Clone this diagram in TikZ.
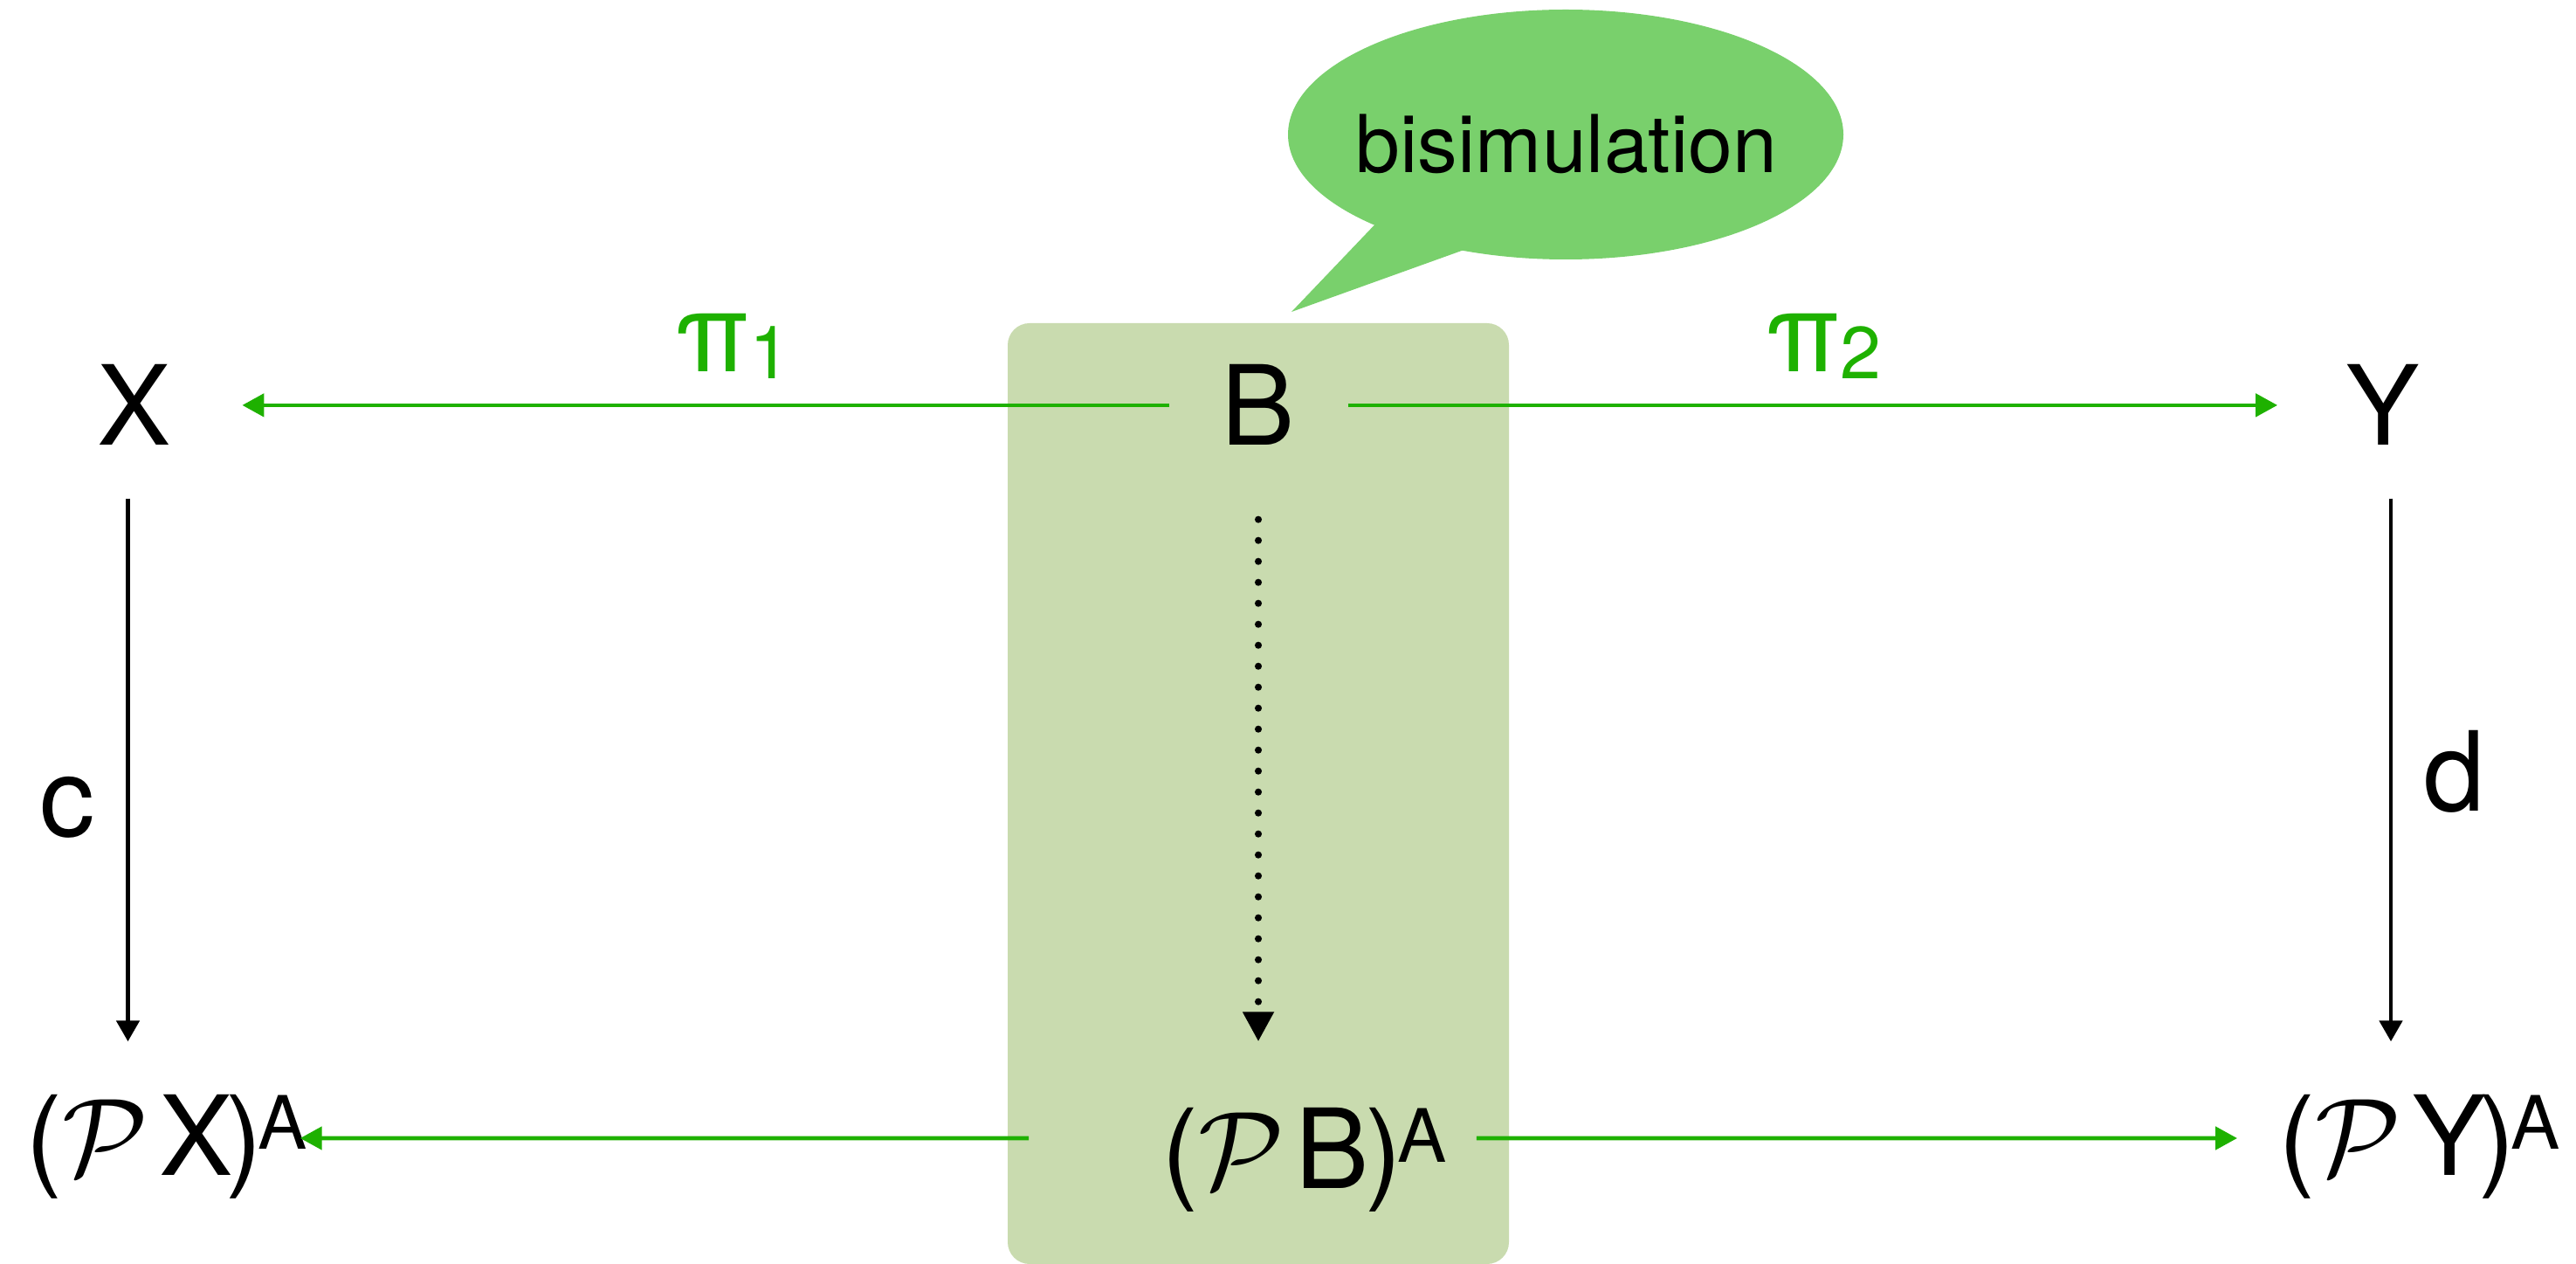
\RequirePackage{fix-cm}
\documentclass[tikz,border=0pt]{standalone}
\usepackage{fontspec}
\setmainfont{TeX Gyre Heros}
\usepackage{tikz}
\usetikzlibrary{arrows.meta,positioning,calc}
\definecolor{arrowgreen}{RGB}{30,177,0}
\definecolor{boxgreen}{RGB}{201,219,175}
\definecolor{bubblegreen}{RGB}{121,208,108}
\tikzset{
  obj/.style={inner sep=0pt, anchor=base, font=\fontsize{36}{40}\selectfont},
  powobj/.style={obj, anchor=base west, text height=10mm, text depth=1.6mm},
  arrdark/.style={-{Triangle[length=2.4mm,width=2.6mm]}, line width=1.4pt, color=black},
  arrgreen/.style={-{Triangle[length=2.5mm,width=2.6mm]}, line width=1.35pt, color=arrowgreen},
  arrdots/.style={-{Triangle[length=3.4mm,width=3.4mm]}, line width=2.3pt, line cap=round,
                  dash pattern=on 0pt off 2.4mm},
  lbl/.style={inner sep=0pt, anchor=base, font=\fontsize{36}{40}\selectfont},
  lblgreen/.style={lbl, text=arrowgreen},
}

\begin{document}
\begin{tikzpicture}
  \useasboundingbox (0,0) rectangle (29.5,-14.47);
  % highlight and speech bubble
  \fill[boxgreen, rounded corners=2.5mm] (11.54,-3.70) rectangle (17.28,-14.47);
  \fill[bubblegreen] (17.93,-1.54) ellipse[x radius=3.18, y radius=1.43];
  \fill[bubblegreen] (15.85,-2.46) -- (14.79,-3.57) -- (16.85,-2.83) -- cycle;
  \node[anchor=base, font=\fontsize{26}{30}\selectfont] (bubtxt) at (17.94,-1.98) {bisimulation};
  % objects
  \node[obj] (X) at (1.535,-5.10) {X};
  \node[obj] (B) at (14.41,-5.10) {B};
  \node[obj] (Y) at (27.29,-5.10) {Y};
  \node[powobj] (PX) at (0.29,-13.45)
    {($\mathcal{P}$\kern1.2mm X\kern-0.8mm)\kern-0.5mm\raisebox{3mm}{\fontsize{24}{24}\selectfont A}};
  \node[powobj, text height=12mm, text depth=0.6mm] (PB) at (13.30,-13.60)
    {($\mathcal{P}$\kern1.2mm B\kern-0.4mm)\kern-0.5mm\raisebox{3mm}{\fontsize{24}{24}\selectfont A}};
  \node[powobj] (PY) at (26.09,-13.45)
    {($\mathcal{P}$\kern1.2mm Y\kern-0.8mm)\kern-0.5mm\raisebox{3mm}{\fontsize{24}{24}\selectfont A}};
  % labels
  \node[lblgreen] (pi1) at (8.39,-4.26) {π\raisebox{-0.8mm}{\fontsize{24}{24}\selectfont 1}};
  \node[lblgreen] (pi2) at (20.88,-4.26) {π\raisebox{-0.8mm}{\fontsize{24}{24}\selectfont 2}};
  \node[lbl] (c) at (0.77,-9.57) {c};
  \node[lbl] (d) at (28.11,-9.28) {d};
  % arrows
  \draw[arrgreen, shorten <=5.9mm, shorten >=8.1mm] (B) -- (X);
  \draw[arrgreen, shorten <=6mm, shorten >=7.8mm] (B) -- (Y);
  \draw[arrdark, shorten <=6mm, shorten >=5.2mm] ([xshift=-0.7mm]X.south) -- ([xshift=-0.7mm]X.south |- PX.north);
  \draw[arrdark, shorten <=6mm, shorten >=5.2mm] ([xshift=0.9mm]Y.south) -- ([xshift=0.9mm]Y.south |- PY.north);
  \draw[arrdots, shorten <=8.4mm, shorten >=4.7mm] (B.south) -- (B.south |- PB.north);
  \draw[arrgreen, shorten <=15.2mm, shorten >=-0.9mm] (PB) -- (PX);
  \draw[arrgreen, shorten <=3.3mm, shorten >=4.7mm] (PB) -- (PY);
\end{tikzpicture}
\end{document}
